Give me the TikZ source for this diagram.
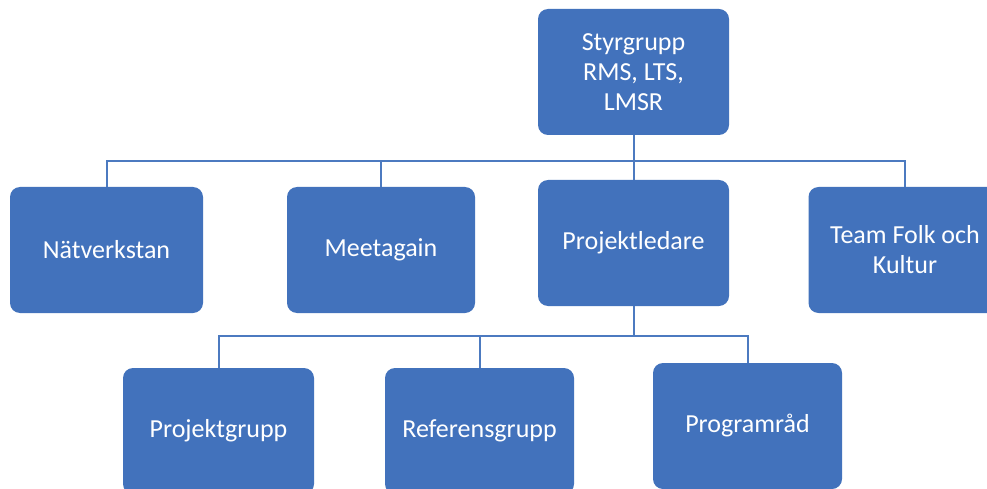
\documentclass[tikz,border=0pt]{standalone}
\usepackage{fontspec}
\setmainfont{Carlito}
\definecolor{boxblue}{RGB}{66,114,188}
\definecolor{lineblue}{RGB}{76,122,192}
\begin{document}
\begin{tikzpicture}[x=1pt,y=-1pt,
  orgbox/.style={fill=boxblue, rounded corners=10pt, text=white, align=center,
    minimum width=191pt, minimum height=126pt, inner sep=0pt,
    font=\fontsize{26}{30}\selectfont},
  conn/.style={draw=lineblue, line width=2pt}]
\useasboundingbox (0,0) rectangle (987,489);
\clip (0,0) rectangle (987,489);
\fill[white] (0,0) rectangle (987,489);
% nodes
\node[orgbox] (top) at (633.5,72) {Styrgrupp\\RMS, LTS,\\LMSR};
\node[orgbox, minimum width=193pt] (nat) at (106.5,250) {Nätverkstan};
\node[orgbox, minimum width=188pt] (meet) at (381,250) {Meetagain};
\node[orgbox] (pl) at (633.5,243) {Projektledare};
\node[orgbox, minimum width=193pt] (team) at (905,250) {Team Folk och\\Kultur};
\node[orgbox] (pg) at (218.5,431) {Projektgrupp};
\node[orgbox, minimum width=189pt] (ref) at (479.5,431) {Referensgrupp};
\node[orgbox, minimum width=189pt] (prog) at (747.5,426) {Programråd};
% connectors
\coordinate (j1) at (633.5,161);
\coordinate (j2) at (633.5,336);
\draw[conn] (top.south) -- (j1);
\draw[conn] (j1) -| (nat.north);
\draw[conn] (j1) -| (meet.north);
\draw[conn] (j1) -- (pl.north);
\draw[conn] (j1) -| (team.north);
\draw[conn] (pl.south) -- (j2);
\draw[conn] (j2) -| (pg.north);
\draw[conn] (j2) -| (ref.north);
\draw[conn] (j2) -| (prog.north);
\end{tikzpicture}
\end{document}
